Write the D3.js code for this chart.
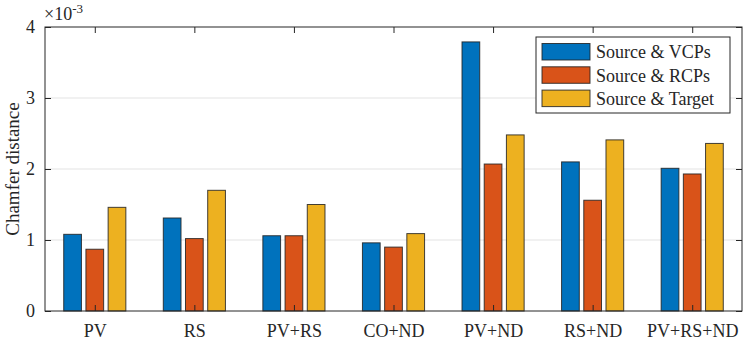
<!DOCTYPE html>
<html>
<head>
<meta charset="utf-8">
<script src="https://cdn.jsdelivr.net/npm/d3@7"></script>
<style>
body { margin: 0; background: #fff; }
svg text { font-family: "Times New Roman", Times, "Liberation Serif", "Nimbus Roman", "DejaVu Serif", serif !important; fill: #262626; }
</style>
</head>
<body>
<div class="chart"></div>
<script>
var categories = ["PV", "RS", "PV+RS", "CO+ND", "PV+ND", "RS+ND", "PV+RS+ND"];
var seriesNames = ["Source & VCPs", "Source & RCPs", "Source & Target"];
var vcps = [1.08, 1.31, 1.06, 0.96, 3.79, 2.10, 2.01];
var rcps = [0.87, 1.02, 1.06, 0.90, 2.07, 1.56, 1.93];
var target = [1.46, 1.70, 1.50, 1.09, 2.48, 2.41, 2.36];
var yTicks = [0, 1, 2, 3, 4];
var colors = ["#0072BD", "#D95319", "#EDB120"];

var series = [vcps, rcps, target];

var width = 747, height = 340;
var margin = {left: 45, right: 5, top: 27, bottom: 29};

var svg = d3.select(".chart").append("svg")
    .attr("width", width)
    .attr("height", height);

var x = d3.scaleLinear()
    .domain([0.5, categories.length + 0.5])
    .range([margin.left, width - margin.right]);

var y = d3.scaleLinear()
    .domain([0, 4])
    .range([height - margin.bottom, margin.top]);

var x0 = x(0.5), x1 = x(categories.length + 0.5);
var y0 = y(0), y1 = y(4);

// grid
svg.append("g").selectAll("line")
    .data(yTicks.filter(function (d) { return d > 0 && d < 4; }))
    .enter().append("line")
    .attr("x1", x0).attr("x2", x1)
    .attr("y1", function (d) { return y(d); })
    .attr("y2", function (d) { return y(d); })
    .attr("stroke", "#e3e3e3")
    .attr("stroke-width", 1);

// bars
var offset = 0.223, bw = 0.178;
series.forEach(function (vals, s) {
    svg.append("g").selectAll("rect")
        .data(vals)
        .enter().append("rect")
        .attr("x", function (d, i) { return x(i + 1 + (s - 1) * offset - bw / 2); })
        .attr("width", x(bw) - x(0))
        .attr("y", function (d) { return y(d); })
        .attr("height", function (d) { return y0 - y(d); })
        .attr("fill", colors[s])
        .attr("stroke", "#222")
        .attr("stroke-opacity", 0.85)
        .attr("stroke-width", 1);
});

// box
svg.append("rect")
    .attr("x", x0).attr("y", y1)
    .attr("width", x1 - x0).attr("height", y0 - y1)
    .attr("fill", "none")
    .attr("stroke", "#262626")
    .attr("stroke-width", 1);

// axes
var xAxis = d3.axisBottom(x)
    .tickValues(d3.range(1, categories.length + 1))
    .tickFormat(function (d) { return categories[d - 1]; })
    .tickSizeInner(-6).tickSizeOuter(0).tickPadding(13);
var gx = svg.append("g").attr("transform", "translate(0," + y0 + ")").call(xAxis);

var xTop = d3.axisTop(x)
    .tickValues(d3.range(1, categories.length + 1))
    .tickFormat("").tickSizeInner(-6).tickSizeOuter(0);
var gxt = svg.append("g").attr("transform", "translate(0," + y1 + ")").call(xTop);

var yAxis = d3.axisLeft(y).tickValues(yTicks).tickFormat(d3.format("d"))
    .tickSizeInner(-6).tickSizeOuter(0).tickPadding(10);
var gy = svg.append("g").attr("transform", "translate(" + x0 + ",0)").call(yAxis);

var yRight = d3.axisRight(y).tickValues(yTicks).tickFormat("")
    .tickSizeInner(-6).tickSizeOuter(0);
var gyr = svg.append("g").attr("transform", "translate(" + x1 + ",0)").call(yRight);

[gx, gxt, gy, gyr].forEach(function (g) {
    g.attr("font-family", null);
    g.select(".domain").remove();
    g.selectAll(".tick line").attr("stroke", "#262626");
    g.selectAll("text").attr("font-size", 18).attr("fill", "#262626");
});
gx.selectAll(".tick text").attr("dy", "0.71em");

// exponent label
var expo = svg.append("text")
    .attr("x", x0 - 1).attr("y", y1 - 7)
    .attr("font-size", 18);
expo.append("tspan").text("\u00d710");
expo.append("tspan").attr("dy", -7).attr("font-size", 13).text("-3");

// y label
svg.append("text")
    .attr("transform", "translate(19," + ((y0 + y1) / 2) + ") rotate(-90)")
    .attr("text-anchor", "middle")
    .attr("font-size", 19)
    .text("Chamfer distance");

// legend
var lg = svg.append("g").attr("transform", "translate(536,37)");
lg.append("rect")
    .attr("width", 194).attr("height", 76)
    .attr("fill", "#fff")
    .attr("stroke", "#262626").attr("stroke-width", 1);
seriesNames.forEach(function (name, i) {
    lg.append("rect")
        .attr("x", 6).attr("y", 6.5 + i * 23.3)
        .attr("width", 48).attr("height", 16.5)
        .attr("fill", colors[i])
        .attr("stroke", "#222").attr("stroke-opacity", 0.85);
    lg.append("text")
        .attr("x", 60).attr("y", 15 + i * 23.3)
        .attr("dy", "0.35em")
        .attr("font-size", 18)
        .text(name);
});
</script>
</body>
</html>
